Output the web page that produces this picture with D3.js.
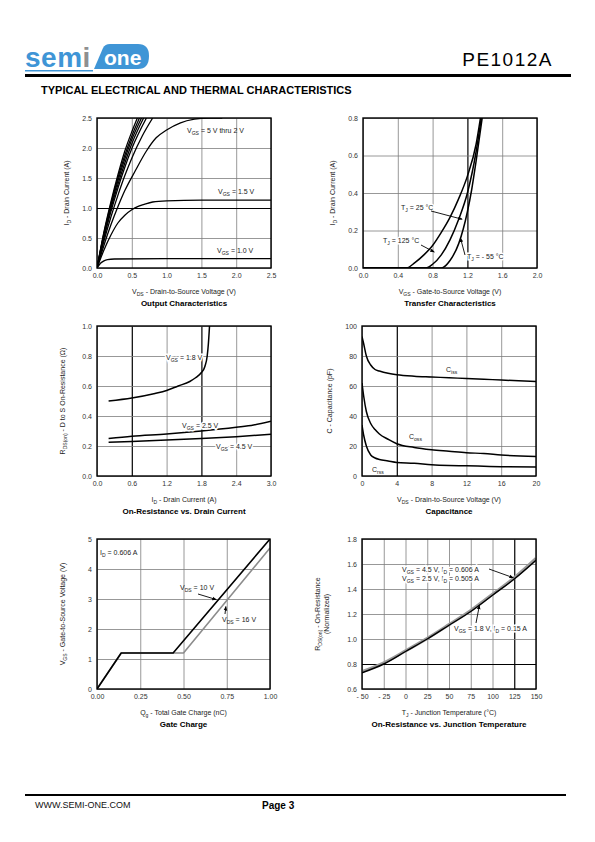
<!DOCTYPE html>
<html><head><meta charset="utf-8">
<script src="https://cdn.jsdelivr.net/npm/d3@7"></script>
<style>body{margin:0;background:#fff}svg{display:block}text{font-family:"Liberation Sans",Arial,sans-serif}</style>
</head><body>
<svg id="c" width="595" height="842"></svg>
<script>
// ---------- DATA ----------
// Output characteristics (VDS, ID)
const outVgs5   = [[0,0],[0.1,0.6],[0.2,1.1],[0.3,1.55],[0.4,1.95],[0.5,2.27],[0.58,2.5]];
const outVgs45  = [[0,0],[0.1,0.58],[0.2,1.07],[0.3,1.5],[0.4,1.88],[0.5,2.2],[0.61,2.5]];
const outVgs4   = [[0,0],[0.1,0.56],[0.2,1.03],[0.3,1.45],[0.4,1.82],[0.5,2.14],[0.64,2.5]];
const outVgs35  = [[0,0],[0.1,0.53],[0.2,0.99],[0.3,1.39],[0.4,1.75],[0.5,2.07],[0.67,2.5]];
const outVgs3   = [[0,0],[0.1,0.5],[0.2,0.94],[0.3,1.33],[0.4,1.68],[0.5,1.99],[0.71,2.5]];
const outVgs25  = [[0,0],[0.1,0.45],[0.2,0.85],[0.3,1.21],[0.4,1.54],[0.5,1.83],[0.65,2.2],[0.8,2.5]];
const outVgs2   = [[0,0],[0.1,0.38],[0.2,0.72],[0.3,1.02],[0.4,1.29],[0.55,1.62],[0.71,1.95],[0.85,2.17],[1.0,2.3],[1.2,2.42],[1.4,2.48],[1.6,2.5],[1.8,2.5]];
const outVgs15  = [[0,0],[0.1,0.3],[0.2,0.55],[0.3,0.75],[0.4,0.88],[0.5,0.97],[0.6,1.03],[0.7,1.07],[0.8,1.1],[1.0,1.12],[1.5,1.13],[2.5,1.13]];
const outVgs1   = [[0,0],[0.05,0.08],[0.1,0.12],[0.15,0.14],[0.25,0.15],[1.0,0.155],[2.5,0.155]];
const outXTicks = [0,0.5,1.0,1.5,2.0,2.5];
const outXLabels = ["0.0","0.5","1.0","1.5","2.0","2.5"];
const outYTicks = [0,0.5,1.0,1.5,2.0,2.5];
const outYLabels = ["0.0","0.5","1.0","1.5","2.0","2.5"];

// Transfer characteristics (VGS, ID)
const tr125 = [[0,0],[0.5,0],[0.6,0.03],[0.7,0.07],[0.8,0.12],[0.9,0.19],[1.0,0.27],[1.1,0.37],[1.2,0.49],[1.3,0.66],[1.35,0.8]];
const tr25  = [[0,0],[0.72,0],[0.8,0.02],[0.9,0.07],[1.0,0.15],[1.1,0.26],[1.2,0.4],[1.3,0.62],[1.36,0.8]];
const trM55 = [[0,0],[0.9,0],[1.0,0.04],[1.1,0.13],[1.2,0.3],[1.25,0.42],[1.3,0.57],[1.37,0.8]];
const trXTicks = [0,0.4,0.8,1.2,1.6,2.0];
const trXLabels = ["0.0","0.4","0.8","1.2","1.6","2.0"];
const trYTicks = [0,0.2,0.4,0.6,0.8];
const trYLabels = ["0.0","0.2","0.4","0.6","0.8"];

// On-resistance vs drain current (ID, RDS)
const rdsVgs18 = [[0.2,0.5],[0.6,0.52],[1.0,0.55],[1.2,0.57],[1.4,0.6],[1.6,0.63],[1.7,0.655],[1.8,0.69],[1.86,0.73],[1.9,0.8],[1.92,0.88],[1.94,1.0]];
const rdsVgs25 = [[0.2,0.25],[0.6,0.265],[1.2,0.28],[1.8,0.3],[2.4,0.325],[2.7,0.34],[3.0,0.365]];
const rdsVgs45 = [[0.2,0.225],[0.6,0.23],[1.2,0.24],[1.8,0.25],[2.4,0.262],[3.0,0.278]];
const rdsXTicks = [0,0.6,1.2,1.8,2.4,3.0];
const rdsXLabels = ["0.0","0.6","1.2","1.8","2.4","3.0"];
const rdsYTicks = [0,0.2,0.4,0.6,0.8,1.0];
const rdsYLabels = ["0.0","0.2","0.4","0.6","0.8","1.0"];

// Capacitance (VDS, pF)
const capCiss = [[0,93],[0.2,88],[0.5,80],[1,74],[1.5,71],[2,70],[3,68.5],[4,67.5],[6,66.5],[8,66],[10,65.5],[12,65],[14,64.5],[16,64],[18,63.5],[20,63]];
const capCoss = [[0,62],[0.2,53],[0.5,43],[1,35],[1.5,31],[2,28],[3,24.5],[4,21.5],[6,19],[8,17.5],[10,16.5],[12,15.5],[14,15],[16,14],[20,13]];
const capCrss = [[0,34],[0.2,27],[0.5,20],[1,14],[1.5,12],[2,11],[3,10],[4,9],[6,8.5],[8,7.5],[10,7],[12,6.8],[14,6.5],[16,6.2],[20,6]];
const capXTicks = [0,4,8,12,16,20];
const capXLabels = ["0","4","8","12","16","20"];
const capYTicks = [0,20,40,60,80,100];
const capYLabels = ["0","20","40","60","80","100"];

// Gate charge (Qg, VGS)
const gcVds10 = [[0,0],[0.14,1.2],[0.44,1.2],[1.0,5.0]];
const gcVds16 = [[0,0],[0.14,1.2],[0.5,1.2],[1.0,4.7]];
const gcXTicks = [0,0.25,0.5,0.75,1.0];
const gcXLabels = ["0.00","0.25","0.50","0.75","1.00"];
const gcYTicks = [0,1,2,3,4,5];
const gcYLabels = ["0","1","2","3","4","5"];

// On-resistance vs junction temperature (TJ, normalized)
const rtHigh = [[-50,0.74],[-25,0.81],[0,0.905],[25,1.005],[50,1.115],[75,1.228],[100,1.358],[125,1.49],[150,1.645]];
const rtLow  = [[-50,0.73],[-25,0.8],[0,0.9],[25,1.0],[50,1.11],[75,1.22],[100,1.35],[125,1.48],[150,1.63]];
const rtXTicks = [-50,-25,0,25,50,75,100,125,150];
const rtXLabels = ["- 50","- 25","0","25","50","75","100","125","150"];
const rtYTicks = [0.6,0.8,1.0,1.2,1.4,1.6,1.8];
const rtYLabels = ["0.6","0.8","1.0","1.2","1.4","1.6","1.8"];

// ---------- DRAW ----------
const svg = d3.select("#c");
const defs = svg.append("defs");
defs.append("marker").attr("id","arr").attr("viewBox","0 0 10 10").attr("refX",9).attr("refY",5)
  .attr("markerWidth",5).attr("markerHeight",5).attr("orient","auto")
  .append("path").attr("d","M0,1 L10,5 L0,9 z").attr("fill","#000");

function rich(t, str, size) {
  const parts = str.split(/(_\{[^}]*\})/).filter(p => p.length);
  let shifted = false;
  parts.forEach(p => {
    if (p.startsWith("_{")) {
      t.append("tspan").attr("font-size", size*0.72).attr("dy", size*0.3).text(p.slice(2,-1));
      shifted = true;
    } else {
      const ts = t.append("tspan").text(p);
      if (shifted) { ts.attr("dy", -size*0.3); shifted = false; }
    }
  });
  return t;
}
function label(x, y, str, size, opts={}) {
  const t = svg.append("text").attr("x", x).attr("y", y).attr("font-size", size).attr("fill", opts.fill||"#222")
    .attr("text-anchor", opts.anchor||"start").attr("font-weight", opts.bold?"bold":"normal");
  if (opts.rotate) t.attr("transform", `rotate(-90,${x},${y})`);
  if (opts.bg) t.attr("paint-order","stroke").attr("stroke","#fff").attr("stroke-width",3);
  return rich(t, str, size);
}

function panel(c) {
  const x = d3.scaleLinear().domain(c.xd).range([c.x0, c.x1]);
  const y = d3.scaleLinear().domain(c.yd).range([c.y1, c.y0]);
  const h = c.y1 - c.y0, w = c.x1 - c.x0;
  const gx = svg.append("g").attr("transform", `translate(0,${c.y1})`)
    .call(d3.axisBottom(x).tickValues(c.xt).tickSize(-h).tickFormat(""));
  gx.select(".domain").remove();
  gx.selectAll("line").attr("stroke", d => (c.xb||[]).includes(d) ? "#000" : "#7d7d7d")
    .attr("stroke-width", d => (c.xb||[]).includes(d) ? 1.2 : 0.8);
  const gy = svg.append("g").attr("transform", `translate(${c.x0},0)`)
    .call(d3.axisLeft(y).tickValues(c.yt).tickSize(-w).tickFormat(""));
  gy.select(".domain").remove();
  gy.selectAll("line").attr("stroke", d => (c.yb||[]).includes(d) ? "#000" : "#7d7d7d")
    .attr("stroke-width", d => (c.yb||[]).includes(d) ? 1.2 : 0.8);
  // tick labels
  const lx = svg.append("g").attr("transform", `translate(0,${c.y1})`)
    .call(d3.axisBottom(x).tickValues(c.xt).tickSize(0).tickPadding(5).tickFormat((d,i) => c.xl[i]));
  lx.select(".domain").remove();
  lx.selectAll("text").attr("font-size", 7).attr("fill", "#333").attr("font-family", '"Liberation Sans",Arial,sans-serif');
  const ly = svg.append("g").attr("transform", `translate(${c.x0},0)`)
    .call(d3.axisLeft(y).tickValues(c.yt).tickSize(0).tickPadding(5).tickFormat((d,i) => c.yl[i]));
  ly.select(".domain").remove();
  ly.selectAll("text").attr("font-size", 7).attr("fill", "#333").attr("font-family", '"Liberation Sans",Arial,sans-serif');
  const cid = "clip" + Math.round(c.x0) + "_" + Math.round(c.y0);
  defs.append("clipPath").attr("id", cid).append("rect").attr("x", c.x0).attr("y", c.y0).attr("width", w).attr("height", h);
  const g = svg.append("g").attr("clip-path", `url(#${cid})`);
  c.series.forEach(s => {
    const line = d3.line().x(d => x(d[0])).y(d => y(d[1])).curve(s.linear ? d3.curveLinear : d3.curveMonotoneX);
    g.append("path").attr("d", line(s.data)).attr("fill", "none")
      .attr("stroke", s.color || "#000").attr("stroke-width", s.width || 1.5).attr("stroke-linejoin","round");
  });
  svg.append("rect").attr("x", c.x0).attr("y", c.y0).attr("width", w).attr("height", h)
    .attr("fill", "none").attr("stroke", "#000").attr("stroke-width", 1.4);
  const cx = (c.x0 + c.x1) / 2;
  label(cx, c.y1 + 26, c.xTitle, 7, {anchor: "middle"});
  label(cx, c.y1 + 38, c.title, 8, {anchor: "middle", bold: true, fill: "#000"});
  const cy = (c.y0 + c.y1) / 2;
  c.yTitle.forEach((t, i) => label(c.yTitleX + i * 9, cy, t, 7, {anchor: "middle", rotate: true}));
  return {x, y};
}

// Header
svg.append("text").attr("x", 25).attr("y", 67).attr("font-size", 28).attr("font-weight", "bold")
  .attr("font-family", '"Liberation Sans",Arial,sans-serif').attr("letter-spacing", 0.5)
  .call(t => { t.append("tspan").attr("fill", "#3f95d6").text("sem"); t.append("tspan").attr("fill", "#8f8f8f").text("i"); });
svg.append("path").attr("d", "M94,69 L103,48 Q105,44 110,44 L138,44 Q149,44 149,56 Q149,69 138,69 Z").attr("fill", "#3f95d6");
svg.append("text").attr("x", 104).attr("y", 65).attr("font-size", 21).attr("font-weight", "bold").attr("fill", "#fff")
  .attr("font-family", '"Liberation Sans",Arial,sans-serif').text("one");
svg.append("rect").attr("x", 25).attr("y", 70).attr("width", 68).attr("height", 1.5).attr("fill", "#3f95d6");
svg.append("text").attr("x", 553).attr("y", 66).attr("font-size", 19).attr("text-anchor", "end").attr("letter-spacing", 1.5)
  .attr("fill", "#000").text("PE1012A");
svg.append("rect").attr("x", 25).attr("y", 74).attr("width", 546).attr("height", 3).attr("fill", "#000");
svg.append("text").attr("x", 41).attr("y", 94).attr("font-size", 11).attr("font-weight", "bold").attr("fill", "#000")
  .text("TYPICAL ELECTRICAL AND THERMAL CHARACTERISTICS");

// Footer
svg.append("rect").attr("x", 25).attr("y", 794).attr("width", 541).attr("height", 2).attr("fill", "#000");
svg.append("text").attr("x", 35).attr("y", 808).attr("font-size", 9).attr("fill", "#111").text("WWW.SEMI-ONE.COM");
svg.append("text").attr("x", 262).attr("y", 809).attr("font-size", 10).attr("font-weight", "bold").attr("fill", "#000").text("Page 3");

// Panel 1
const p1 = panel({x0: 97, x1: 271, y0: 118, y1: 268, xd: [0, 2.5], yd: [0, 2.5],
  xt: outXTicks, xl: outXLabels, yt: outYTicks, yl: outYLabels, yb: [1.0],
  xTitle: "V_{DS} - Drain-to-Source Voltage (V)", title: "Output Characteristics",
  yTitle: ["I_{D} - Drain Current (A)"], yTitleX: 69,
  series: [outVgs5, outVgs45, outVgs4, outVgs35, outVgs3, outVgs25, outVgs2, outVgs15, outVgs1].map(d => ({data: d, width: 1.3}))});
label(187, 133, "V_{GS} = 5 V thru 2 V", 7);
label(218, 194, "V_{GS} = 1.5 V", 7);
label(217, 253, "V_{GS} = 1.0 V", 7);

// Panel 2
const p2 = panel({x0: 363, x1: 537, y0: 118, y1: 268, xd: [0, 2.0], yd: [0, 0.8],
  xt: trXTicks, xl: trXLabels, yt: trYTicks, yl: trYLabels, xb: [1.2],
  xTitle: "V_{GS} - Gate-to-Source Voltage (V)", title: "Transfer Characteristics",
  yTitle: ["I_{D} - Drain Current (A)"], yTitleX: 335,
  series: [tr125, tr25, trM55].map(d => ({data: d, width: 1.5}))});
label(401, 210, "T_{J} = 25 °C", 7, {bg: true});
label(383, 243, "T_{J} = 125 °C", 7, {bg: true});
label(467, 259, "T_{J} = - 55 °C", 7, {bg: true});
svg.append("line").attr("x1", 431).attr("y1", 211).attr("x2", p2.x(1.14)).attr("y2", p2.y(0.26)).attr("stroke", "#000").attr("stroke-width", 0.9).attr("marker-end", "url(#arr)");
svg.append("line").attr("x1", 421).attr("y1", 245).attr("x2", p2.x(0.82)).attr("y2", p2.y(0.085)).attr("stroke", "#000").attr("stroke-width", 0.9).attr("marker-end", "url(#arr)");
svg.append("line").attr("x1", 465).attr("y1", 255).attr("x2", p2.x(1.12)).attr("y2", p2.y(0.16)).attr("stroke", "#000").attr("stroke-width", 0.9).attr("marker-end", "url(#arr)");

// Panel 3
const p3 = panel({x0: 97, x1: 271, y0: 326, y1: 476, xd: [0, 3.0], yd: [0, 1.0],
  xt: rdsXTicks, xl: rdsXLabels, yt: rdsYTicks, yl: rdsYLabels, xb: [0.6, 1.8],
  xTitle: "I_{D} - Drain Current (A)", title: "On-Resistance vs. Drain Current",
  yTitle: ["R_{DS(on)} - D to S On-Resistance (Ω)"], yTitleX: 65,
  series: [rdsVgs18, rdsVgs25, rdsVgs45].map(d => ({data: d, width: 1.5}))});
label(166, 360, "V_{GS} = 1.8 V", 7, {bg: true});
label(182, 428, "V_{GS} = 2.5 V", 7, {bg: true});
label(216, 449, "V_{GS} = 4.5 V", 7, {bg: true});

// Panel 4
const p4 = panel({x0: 362, x1: 536, y0: 326, y1: 476, xd: [0, 20], yd: [0, 100],
  xt: capXTicks, xl: capXLabels, yt: capYTicks, yl: capYLabels, xb: [4],
  xTitle: "V_{DS} - Drain-to-Source Voltage (V)", title: "Capacitance",
  yTitle: ["C - Capacitance (pF)"], yTitleX: 332,
  series: [capCiss, capCoss, capCrss].map(d => ({data: d, width: 1.5}))});
label(446, 372, "C_{iss}", 7);
label(409, 439, "C_{oss}", 7);
label(372, 472, "C_{rss}", 7);

// Panel 5
const p5 = panel({x0: 97, x1: 270, y0: 539, y1: 689, xd: [0, 1.0], yd: [0, 5],
  xt: gcXTicks, xl: gcXLabels, yt: gcYTicks, yl: gcYLabels,
  xTitle: "Q_{g} - Total Gate Charge (nC)", title: "Gate Charge",
  yTitle: ["V_{GS} - Gate-to-Source Voltage (V)"], yTitleX: 65,
  series: [{data: gcVds16, color: "#8c8c8c", width: 1.6, linear: true}, {data: gcVds10, color: "#000", width: 1.6, linear: true}]});
label(100, 555, "I_{D} = 0.606 A", 7);
label(180, 590, "V_{DS} = 10 V", 7);
label(222, 622, "V_{DS} = 16 V", 7);
svg.append("line").attr("x1", 198).attr("y1", 594).attr("x2", p5.x(0.69)).attr("y2", p5.y(2.98)).attr("stroke", "#000").attr("stroke-width", 0.9).attr("marker-end", "url(#arr)");
svg.append("line").attr("x1", 225).attr("y1", 614).attr("x2", p5.x(0.745)).attr("y2", p5.y(2.75)).attr("stroke", "#000").attr("stroke-width", 0.9).attr("marker-end", "url(#arr)");

// Panel 6
const p6 = panel({x0: 362, x1: 536, y0: 539, y1: 689, xd: [-50, 150], yd: [0.6, 1.8],
  xt: rtXTicks, xl: rtXLabels, yt: rtYTicks, yl: rtYLabels, xb: [125], yb: [0.8],
  xTitle: "T_{J} - Junction Temperature (°C)", title: "On-Resistance vs. Junction Temperature",
  yTitle: ["R_{DS(on)} - On-Resistance", "(Normalized)"], yTitleX: 320,
  series: [{data: rtHigh, color: "#9a9a9a", width: 3}, {data: rtLow, color: "#000", width: 1.4}]});
label(402, 572, "V_{GS} = 4.5 V, I_{D} =  0.606 A", 7, {bg: true});
label(402, 581, "V_{GS} = 2.5 V, I_{D} =  0.505 A", 7, {bg: true});
label(454, 631, "V_{GS} = 1.8 V, I_{D} =  0.15 A", 7, {bg: true});
svg.append("line").attr("x1", 489).attr("y1", 569).attr("x2", p6.x(124)).attr("y2", p6.y(1.49)).attr("stroke", "#000").attr("stroke-width", 0.9).attr("marker-end", "url(#arr)");
svg.append("line").attr("x1", 476).attr("y1", 623).attr("x2", p6.x(85)).attr("y2", p6.y(1.27)).attr("stroke", "#000").attr("stroke-width", 0.9).attr("marker-end", "url(#arr)");
</script>
</body></html>
